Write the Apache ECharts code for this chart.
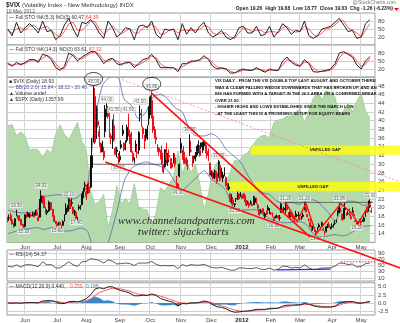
<!DOCTYPE html>
<html><head><meta charset="utf-8">
<script src="https://cdn.jsdelivr.net/npm/echarts@6/dist/echarts.min.js"></script>
<style>html,body{margin:0;padding:0;background:#fff}#c{width:400px;height:323px}</style>
</head><body><div id="c"></div>
<script>
// ---- trading calendar ----
const startDate = '2011-05-13';
const endDate = '2012-05-10';
const marketHolidays = ['2011-05-30','2011-07-04','2011-09-05','2011-11-24','2011-12-26','2012-01-02','2012-01-16','2012-02-20','2012-04-06'];
const monthKeys = ['2011-06','2011-07','2011-08','2011-09','2011-10','2011-11','2011-12','2012-01','2012-02','2012-03','2012-04','2012-05'];
const monthTexts = ['Jun','Jul','Aug','Sep','Oct','Nov','Dec','2012','Feb','Mar','Apr','May'];

// ---- $VIX daily candles [open, high, low, close] ----
const may11 = [[17.3,17.9,16.6,17.07],[17.6,18.4,17.0,17.65],[18.2,18.8,17.0,17.0],[17.2,17.4,16.1,16.23],[16.3,16.5,15.3,15.52],[15.8,17.6,15.7,17.43],[18.6,19.5,18.0,18.27],[18.0,18.3,17.4,17.82],[18.1,18.3,16.9,17.07],[17.3,17.4,16.0,16.09],[16.1,16.3,15.6,15.98],[16.0,16.2,15.3,15.45]];
const jun11 = [[15.7,18.5,15.6,18.3],[18.4,18.9,17.6,17.92],[18.6,19.1,17.9,17.95],[17.9,18.8,17.6,18.49],[18.3,18.6,17.8,18.07],[18.1,19.1,18.0,18.79],[18.5,18.8,17.8,17.9],[18.3,19.5,18.2,18.86],[19.0,19.6,18.1,18.26],[17.7,18.2,16.9,17.0],[17.8,22.0,17.7,21.32],[21.2,24.01,20.5,22.73],[21.3,22.8,20.9,21.85],[22.4,22.8,19.9,19.99],[19.9,20.2,18.6,18.86],[18.8,19.6,18.3,19.29],[20.5,21.6,19.0,19.29],[19.5,21.3,19.2,21.1],[21.0,21.3,19.5,19.61],[19.6,19.7,17.9,17.96],[18.0,18.2,16.8,16.8],[16.9,17.0,16.2,16.52]];
const jul11 = [[16.4,16.6,15.6,15.87],[16.4,16.7,15.9,16.34],[16.6,16.8,15.9,16.06],[15.7,16.1,15.3,15.95],[16.8,17.1,15.8,15.95],[16.9,18.5,16.8,18.39],[18.5,21.0,18.3,19.87],[19.3,20.6,19.0,19.91],[19.7,22.1,19.1,22.0],[21.4,21.7,19.7,20.0],[21.0,22.1,20.3,21.2],[20.1,20.2,18.5,18.6],[18.5,19.5,18.1,19.2],[18.9,19.0,17.4,17.5],[17.6,17.9,17.1,17.52],[19.8,20.7,19.4,20.2],[19.9,20.6,19.5,20.2],[20.7,23.1,20.5,22.98],[22.8,24.5,22.2,23.74],[25.0,26.0,23.7,25.25]];
const aug11 = [[22.5,25.2,21.8,23.7],[24.1,25.5,23.2,24.8],[24.7,26.0,23.3,23.4],[24.7,32.0,24.5,31.66],[29.2,36.0,27.4,32.0],[36.5,48.0,35.0,48.0],[45.6,47.5,34.6,35.06],[36.9,43.5,35.8,42.99],[39.9,43.0,38.5,39.0],[37.6,38.8,34.0,36.36],[34.8,35.0,32.6,32.85],[34.5,35.4,32.8,32.85],[33.0,34.0,30.9,31.58],[37.5,43.6,36.2,42.67],[42.5,44.0,40.9,43.05],[41.0,43.4,40.5,42.44],[41.6,42.0,36.1,36.27],[36.5,37.1,34.6,35.9],[34.5,40.3,33.5,39.76],[38.9,41.5,35.2,35.59],[33.6,34.0,32.1,32.28],[33.3,34.0,31.6,32.89],[31.4,32.6,30.1,31.62]];
const sep11 = [[31.0,33.0,30.5,31.82],[34.5,35.5,33.5,33.92],[37.8,39.0,36.5,37.0],[34.8,35.0,33.0,33.36],[33.8,35.5,33.2,35.0],[35.5,39.1,35.0,38.52],[40.9,41.6,36.4,36.91],[37.0,37.9,34.6,35.0],[35.2,37.5,32.7,32.8],[32.5,33.0,30.5,30.98],[31.0,31.6,30.2,30.98],[34.6,35.5,32.8,33.0],[32.8,34.2,31.4,32.7],[33.2,37.6,32.3,37.3],[41.6,43.5,39.8,41.35],[40.4,42.7,38.6,39.0],[38.3,38.7,35.9,37.0],[35.6,36.7,33.5,35.0],[36.0,38.2,35.3,38.0],[36.4,39.0,35.6,38.0],[40.5,43.3,39.0,42.96]];
const oct11 = [[42.6,45.8,41.3,45.45],[44.7,46.88,40.5,40.82],[41.0,41.6,37.2,37.8],[38.0,38.7,35.9,36.27],[35.7,38.0,34.6,36.2],[34.4,34.6,32.8,33.0],[33.7,34.0,32.0,32.86],[31.9,33.3,31.1,32.8],[32.6,34.3,29.9,30.2],[29.7,30.0,27.9,28.2],[29.4,33.5,29.2,33.3],[32.8,34.9,30.2,31.0],[30.5,32.6,29.6,32.0],[32.0,33.4,31.0,31.7],[30.6,31.5,29.0,31.3],[30.2,30.5,29.0,29.3],[30.8,32.6,30.2,32.2],[31.5,32.5,29.3,30.0],[26.7,27.3,24.5,25.0],[25.4,25.7,24.3,24.5],[27.3,30.2,27.0,29.96]];
const nov11 = [[33.5,36.0,32.5,34.8],[33.1,33.4,31.0,32.7],[32.8,34.2,30.1,30.5],[31.3,32.3,30.0,30.2],[31.0,31.7,29.6,29.8],[29.5,30.2,28.7,29.5],[32.3,36.9,31.9,36.2],[33.2,35.4,32.7,33.0],[31.8,32.0,29.4,30.0],[31.3,31.9,30.2,31.5],[31.2,32.8,30.7,32.0],[32.1,34.2,31.6,32.9],[33.0,35.5,32.5,34.5],[33.2,34.4,31.7,32.0],[34.9,35.0,33.4,34.0],[33.2,35.2,32.6,34.0],[34.2,35.3,33.3,35.0],[33.0,35.0,32.5,34.5],[32.0,34.5,31.3,33.0],[32.5,33.6,30.7,31.0],[30.2,30.4,27.4,27.8]];
const dec11 = [[27.5,28.6,27.1,27.9],[27.0,28.4,26.6,27.5],[26.8,28.7,26.5,28.0],[28.3,28.6,26.8,27.0],[27.9,28.2,25.5,26.0],[27.1,31.0,26.9,30.6],[29.7,30.0,26.0,26.4],[28.4,29.2,26.9,27.0],[26.8,28.3,25.9,27.5],[28.3,29.3,27.2,27.5],[26.9,27.2,24.9,25.0],[24.6,25.7,24.1,24.3],[24.8,25.6,23.9,24.3],[23.2,23.3,21.3,21.4],[22.3,23.1,21.0,22.0],[21.8,22.1,20.4,20.7],[20.9,21.0,20.1,20.7],[22.1,22.2,21.3,22.0],[22.0,23.7,21.8,23.5],[23.2,23.3,21.8,22.0],[22.6,23.6,22.4,23.4]];
const jan12 = [[22.6,23.0,21.9,22.97],[22.9,23.4,22.0,22.2],[22.8,23.3,21.3,21.5],[21.5,21.8,20.3,20.6],[21.2,21.6,20.7,21.1],[20.4,21.4,20.0,21.0],[21.3,21.7,20.7,21.0],[20.7,21.4,20.3,20.5],[21.6,22.7,20.6,20.9],[21.2,22.6,20.6,22.2],[21.5,22.3,20.8,20.9],[20.5,20.9,19.6,19.9],[19.6,19.7,18.2,18.3],[18.9,19.7,18.6,19.0],[19.4,19.9,18.7,18.8],[18.9,19.8,18.0,18.3],[17.9,18.9,17.4,18.6],[19.1,19.3,18.3,18.5],[20.0,20.6,19.3,19.4],[19.0,19.9,18.5,19.4]];
const feb12 = [[18.6,19.0,18.3,18.8],[18.5,18.9,17.8,17.9],[17.5,17.8,16.8,17.1],[17.7,18.2,17.5,17.9],[18.0,18.4,17.6,18.0],[17.8,18.3,17.3,17.6],[17.7,18.3,17.0,17.6],[18.9,21.1,18.8,20.8],[19.5,19.8,18.9,19.0],[19.8,20.2,19.2,19.5],[19.2,21.2,18.7,21.1],[20.3,21.0,19.4,19.5],[18.8,19.0,17.8,18.0],[17.8,19.1,17.6,18.9],[18.6,19.2,17.9,18.2],[18.2,18.5,17.5,17.6],[17.5,17.6,16.8,17.3],[18.4,19.3,17.8,18.2],[18.3,18.6,17.8,18.2],[17.9,19.1,17.4,18.4]];
const mar12 = [[17.5,18.0,17.1,17.3],[17.7,18.1,17.2,17.3],[18.3,18.8,17.6,18.0],[19.9,21.2,19.4,20.9],[20.1,20.5,18.9,19.0],[18.4,18.5,17.8,17.9],[17.3,17.6,16.8,17.3],[16.6,17.5,15.5,15.6],[15.5,16.0,14.5,14.8],[15.3,15.8,14.7,15.3],[14.8,15.4,14.4,14.5],[14.2,14.8,13.66,14.5],[15.3,15.5,14.7,15.0],[16.0,16.4,15.3,15.6],[15.2,15.5,14.7,15.1],[16.5,16.8,15.5,15.6],[15.0,15.4,14.6,14.8],[14.3,14.6,13.7,14.3],[14.6,15.8,14.3,15.6],[15.9,16.3,15.3,15.6],[16.1,16.7,15.4,15.5],[15.3,15.6,15.0,15.5]];
const apr12 = [[15.8,16.4,15.1,15.6],[15.8,16.3,15.4,15.7],[16.4,17.1,16.0,16.4],[17.1,17.3,16.5,16.7],[18.9,19.4,18.0,18.8],[18.8,21.06,18.7,20.4],[19.3,19.9,18.9,19.2],[18.5,18.7,17.0,17.2],[17.4,19.9,17.3,19.6],[19.9,21.1,19.5,19.6],[18.3,18.9,18.1,18.5],[18.6,19.2,18.4,18.6],[18.5,19.8,18.0,18.4],[17.9,18.6,17.4,17.4],[19.4,20.1,18.8,18.9],[18.4,19.4,18.0,18.1],[17.0,17.6,16.8,16.8],[16.8,17.1,16.2,16.2],[16.5,16.9,16.2,16.3],[17.0,17.4,16.9,17.2]];
const may12 = [[16.9,17.6,15.9,16.6],[17.0,17.3,16.8,16.9],[16.9,18.0,16.7,17.6],[18.1,19.5,17.9,19.2],[19.9,20.3,18.9,18.9],[19.8,21.6,19.0,19.1],[20.6,21.9,19.9,20.29],[19.26,19.88,18.77,19.03]];

// ---- overlays & indicators, one reading every third session ----
const INDICATOR_STEP = 3;
const spxClose = [1338,1340,1317,1325,1315,1286,1289,1287,1271,1288,1280,1321,1340,1320,1309,1327,1345,1305,1287,1200,1172,1179,1193,1123,1159,1212,1174,1185,1172,1216,1166,1162,1160,1124,1155,1207,1200,1215,1229,1285,1237,1261,1239,1257,1216,1161,1195,1244,1261,1236,1216,1241,1265,1263,1277,1281,1295,1308,1316,1318,1312,1345,1350,1352,1358,1358,1367,1374,1343,1371,1395,1409,1393,1412,1408,1399,1358,1370,1385,1367,1390,1405,1369,1354];
const stoFastK = [50,25,75,35,55,70,55,35,80,40,45,10,25,65,90,50,20,75,70,85,65,35,15,80,55,20,35,55,50,10,60,65,55,80,30,15,50,45,50,10,70,30,55,35,60,75,35,20,30,45,20,10,20,55,60,35,35,60,25,30,60,20,40,70,55,30,45,40,80,25,15,25,50,55,60,75,90,65,40,45,15,20,70,85];
const stoFastD = [45,35,50,55,45,60,65,50,55,60,45,30,20,40,70,75,45,45,60,80,78,50,30,45,62,45,30,42,52,35,35,55,60,68,55,30,32,45,48,35,45,45,45,45,48,62,58,35,28,35,35,20,15,35,55,50,40,45,45,35,40,40,35,55,60,45,38,42,60,50,30,22,35,50,55,65,80,80,55,45,35,20,45,70];
const stoSlowK = [40,30,45,35,45,55,55,45,75,70,55,25,15,30,80,70,50,65,75,85,85,65,40,55,60,40,35,45,45,25,40,55,60,75,55,25,25,25,25,10,40,40,50,50,55,70,55,30,20,25,20,5,5,15,20,15,15,25,15,8,20,15,15,50,65,45,35,30,55,40,10,8,12,15,20,40,80,85,75,65,35,20,50,67];
const stoSlowD = [42,35,38,40,40,50,55,50,60,72,62,40,22,22,55,75,60,58,68,80,85,75,52,48,58,50,40,40,45,35,35,45,55,68,62,40,28,25,25,18,28,38,45,50,52,62,60,42,28,22,22,12,6,10,15,17,15,20,18,12,15,16,15,35,55,52,40,33,45,45,25,12,10,12,16,30,62,80,80,70,50,30,38,60];
const rsi14 = [48,45,52,45,52,53,50,46,62,52,53,42,42,52,62,52,47,62,63,72,70,66,58,68,64,55,56,58,56,50,58,58,58,63,54,49,50,49,50,40,53,48,53,51,51,54,47,43,42,44,40,35,35,42,42,40,40,43,38,37,42,35,38,48,47,42,44,42,52,43,36,38,42,42,43,48,58,57,53,55,45,47,56,58];
const macdLine = [0,-0.1,0,-0.1,0.05,0.1,0.1,0,0.6,0.7,0.7,0.3,-0.1,-0.2,0.4,0.5,0.3,0.7,1.3,2.5,4.3,4.7,4.4,5.0,5.0,4.3,3.8,3.5,3.0,2.2,2.2,2.4,2.3,2.8,2.3,1.4,0.9,0.5,0.2,-0.9,-0.2,-0.3,0,0,0.2,0.6,0.3,-0.6,-1.2,-1.4,-1.8,-2.5,-2.9,-2.8,-2.6,-2.5,-2.3,-2.0,-2.0,-2.0,-1.7,-1.7,-1.6,-1.0,-0.7,-0.7,-0.6,-0.6,-0.2,-0.4,-0.9,-1.2,-1.3,-1.3,-1.3,-1.0,-0.2,0.3,0.4,0.4,0,-0.1,0.2,0.44];
const macdSignal = [0.05,0,0,-0.05,0,0.05,0.08,0.05,0.2,0.4,0.55,0.5,0.3,0.1,0.15,0.3,0.35,0.45,0.7,1.3,2.3,3.2,3.7,4.2,4.5,4.5,4.3,4.0,3.6,3.1,2.7,2.5,2.4,2.5,2.5,2.1,1.7,1.2,0.8,0.2,0,-0.1,-0.1,-0.05,0.05,0.25,0.3,0,-0.5,-0.9,-1.3,-1.8,-2.2,-2.5,-2.6,-2.6,-2.5,-2.3,-2.2,-2.1,-1.9,-1.8,-1.7,-1.4,-1.1,-0.9,-0.75,-0.65,-0.45,-0.4,-0.6,-0.9,-1.1,-1.2,-1.25,-1.15,-0.7,-0.2,0.1,0.3,0.2,0.05,0.1,0.25];
const macdHist = [-0.05,-0.1,0,-0.05,0.05,0.05,0.02,-0.05,0.4,0.3,0.15,-0.2,-0.4,-0.3,0.25,0.2,-0.05,0.25,0.6,1.2,2.0,1.5,0.7,0.8,0.5,-0.2,-0.5,-0.5,-0.6,-0.9,-0.5,-0.1,-0.1,0.3,-0.2,-0.7,-0.8,-0.7,-0.6,-1.1,-0.2,-0.2,0.1,0.05,0.15,0.35,0,-0.6,-0.7,-0.5,-0.5,-0.7,-0.7,-0.3,0,0.1,0.2,0.3,0.2,0.1,0.2,0.1,0.1,0.4,0.4,0.2,0.15,0.05,0.25,0,-0.3,-0.3,-0.2,-0.1,-0.05,0.15,0.5,0.5,0.3,0.1,-0.2,-0.15,0.1,0.19];

// ---- Bollinger bands, one reading every fifth session ----
const BB_STEP = 5;
const bbUpper = [19.5,19.0,18.8,18.9,19.2,22.5,22.8,23.0,22.5,22.0,23.0,25.5,40.0,48.0,50.0,50.5,45.0,43.5,40.5,42.0,45.5,46.0,45.0,43.0,42.0,38.0,36.5,36.5,37.0,36.0,33.5,32.0,30.5,27.5,25.0,23.5,23.0,21.5,21.0,21.2,20.8,21.5,21.8,20.8,19.0,17.0,20.5,21.5,21.3,20.5,21.2];
const bbLower = [14.0,14.5,15.0,15.2,15.4,15.0,15.4,14.8,14.6,14.8,15.3,14.5,9.0,8.0,13.0,19.0,26.0,29.0,30.0,30.5,30.0,29.5,28.5,26.0,24.0,25.5,27.0,28.5,26.5,25.5,24.0,20.0,19.5,19.5,19.5,18.5,17.5,16.8,16.5,16.6,16.8,16.2,14.0,13.2,13.5,13.8,13.5,14.0,15.0,15.7,15.8];

// ---- swing-point price tags [session, price, side]; each price is that session's high or low ----
const swingLabels = [
  [6,19.5,'top'],[11,15.3,'bottom'],[23,24.01,'top'],[34,15.6,'bottom'],[42,22.1,'top'],[47,17.4,'bottom'],
  [59,48.00,'top'],[68,44.0,'top'],[73,41.5,'top'],[76,30.1,'bottom'],[83,41.6,'top'],[91,43.5,'top'],[99,46.88,'top'],
  [117,24.3,'bottom'],[125,36.9,'top'],[145,31.0,'top'],[156,20.1,'bottom'],
  [183,16.8,'bottom'],[191,21.2,'top'],[204,21.2,'top'],[212,13.66,'bottom'],[228,21.06,'top'],[240,16.2,'bottom'],[249,21.9,'top']
];

// ---- chart notes, anchored in [session, price] ----
const wedgeTop = [[99,46.3],[208,13.2]];
const wedgeBottom = [[67,30.5],[269.7,6.1]];
const resistance = [[75.8,49.8],[269.7,25.9]];
const supportLevel = [[58.6,30.0],[109.5,30.0]];
const necklineLevel = [[190.6,21.2],[250.5,21.2]];
const ihsPath = [[191,21.2],[198.5,16.8],[204.5,21.0],[212,14.0],[228.5,20.9],[235.5,18.9],[240.5,16.4],[249.5,21.5]];
const gapBands = [[167,32.2,34.3],[150,23.8,25.9]];
const topCircles = [[59,48.0],[99,46.88]];
const rsiArrow = [[185,36],[222,38]];
const rsiDotted = [[229,62],[253,62]];

const noteLines = [
  'VIX DAILY - FROM THE VIX DOUBLE TOP LAST AUGUST AND OCTOBER THERE',
  'WAS A CLEAR FALLING WEDGE DOWNWARDS THAT HAS BROKEN UP, AND AN',
  'IHS HAS FORMED WITH A TARGET IN THE 26.5 AREA ON A CONFIRMED BREAK',
  'OVER 21.50.',
  '- HIGHER HIGHS AND LOWS ESTABLISHED SINCE THE MARCH LOW',
  '- AT THE LEAST THIS IS A PROMISING SETUP FOR EQUITY BEARS'
];
const priceTicks = [14,16,18,20,22,24,26,28,30,32,34,36,38,40,42,44,46,48];

// ---------------------------------------------------------------
function buildTradingDays() {
  const out = [];
  const d = new Date(startDate + 'T00:00:00Z');
  const end = new Date(endDate + 'T00:00:00Z');
  while (d <= end) {
    const iso = d.toISOString().slice(0, 10);
    const wd = d.getUTCDay();
    if (wd !== 0 && wd !== 6 && marketHolidays.indexOf(iso) < 0) out.push(iso);
    d.setUTCDate(d.getUTCDate() + 1);
  }
  return out;
}
const days = buildTradingDays();
const categories = days.concat(['pad-1', 'pad-2']);
const monthStart = {};
days.forEach((iso, i) => {
  const k = iso.slice(0, 7);
  const m = monthKeys.indexOf(k);
  if (m >= 0 && !(k in monthStart)) monthStart[k] = i;
});
const monthIdx = {};
monthKeys.forEach((k, m) => { monthIdx[monthStart[k]] = monthTexts[m]; });
const isMonthStart = (i) => i in monthIdx;

const vixRows = [].concat(may11, jun11, jul11, aug11, sep11, oct11, nov11, dec11, jan12, feb12, mar12, apr12, may12);
const candleData = vixRows.map((r, i) => {
  const prev = i > 0 ? vixRows[i - 1][3] : r[0];
  const col = r[3] < prev ? '#e8101a' : '#111';
  const fill = r[3] < r[0] ? col : '#fff';
  return { value: [r[0], r[3], r[2], r[1]], itemStyle: { color: fill, color0: fill, borderColor: col, borderColor0: col } };
});
const stepped = (arr, step) => arr.map((v, i) => [i * step, v]);

const FONT = 'Liberation Sans, Arial, sans-serif';
const GRID_L = 7, GRID_W = 368;
const grids = [
  { left: GRID_L, width: GRID_W, top: 13, height: 32 },
  { left: GRID_L, width: GRID_W, top: 45, height: 32 },
  { left: GRID_L, width: GRID_W, top: 77.3, height: 165.1 },
  { left: GRID_L, width: GRID_W, top: 250, height: 31 },
  { left: GRID_L, width: GRID_W, top: 282.75, height: 34 }
].map(g => Object.assign({ show: true, borderColor: '#9a9a9a', borderWidth: 1, backgroundColor: '#fff' }, g));

function xAx(gi, labels) {
  return {
    type: 'category', gridIndex: gi, data: categories, boundaryGap: true,
    axisLine: { show: false }, axisTick: { show: false },
    axisLabel: { show: labels, interval: (i) => isMonthStart(i),
      formatter: (v, i) => { const t = monthIdx[i] || ''; return /^\d+$/.test(t) ? '{yr|' + t + '}' : t; },
      rich: { yr: { fontWeight: 'bold', fontSize: 6, color: '#222', fontFamily: FONT } },
      fontSize: 6, color: '#444', fontFamily: FONT, margin: 2 },
    splitLine: { show: true, interval: (i) => isMonthStart(i), lineStyle: { color: '#d4d4d4', width: 1 } }
  };
}
function yAx(gi, min, max, ticks, fmt) {
  return {
    type: 'value', gridIndex: gi, position: 'right', min, max, scale: true,
    axisLine: { show: false },
    axisTick: { show: false, customValues: ticks },
    axisLabel: { customValues: ticks, fontSize: 6, color: '#444', fontFamily: FONT, margin: 3, formatter: fmt || (v => String(v)) },
    splitLine: { show: true, lineStyle: { color: '#cfcfcf', width: 1 } }
  };
}

const option = {
  animation: false,
  backgroundColor: '#fff',
  grid: grids,
  xAxis: [xAx(0, false), xAx(1, false), xAx(2, true), xAx(3, false), xAx(4, true)],
  yAxis: [
    yAx(0, -10, 110, [20, 50, 80]),
    yAx(1, -10, 110, [20, 50, 80]),
    yAx(2, 12, 50, priceTicks),
    { type: 'value', gridIndex: 2, show: false, min: 1092, max: 1440, splitLine: { show: false } },
    yAx(3, 0, 100, [10, 30, 50, 70, 90]),
    yAx(4, -3.75, 6.25, [-2.5, 0, 2.5, 5], v => v.toFixed(1))
  ],
  series: [
    { type: 'line', name: '%K(5,3)', xAxisIndex: 0, yAxisIndex: 0, data: stepped(stoFastK, INDICATOR_STEP), showSymbol: false, lineStyle: { color: '#222', width: 1 }, z: 4 },
    { type: 'line', name: '%D(3)', xAxisIndex: 0, yAxisIndex: 0, data: stepped(stoFastD, INDICATOR_STEP), showSymbol: false, lineStyle: { color: '#ff5a5a', width: 1 }, z: 3 },
    { type: 'line', name: '%K(14,3)', xAxisIndex: 1, yAxisIndex: 1, data: stepped(stoSlowK, INDICATOR_STEP), showSymbol: false, lineStyle: { color: '#222', width: 1 }, z: 4 },
    { type: 'line', name: '%D(3) slow', xAxisIndex: 1, yAxisIndex: 1, data: stepped(stoSlowD, INDICATOR_STEP), showSymbol: false, lineStyle: { color: '#ff5a5a', width: 1 }, z: 3 },
    { type: 'line', name: '$SPX', xAxisIndex: 2, yAxisIndex: 3, data: stepped(spxClose, INDICATOR_STEP), showSymbol: false,
      lineStyle: { color: '#9ccb93', width: 0.8 }, areaStyle: { color: '#b4d9ab', origin: 'start', opacity: 1 }, z: 1 },
    { type: 'line', name: 'BB upper', xAxisIndex: 2, yAxisIndex: 2, data: stepped(bbUpper, BB_STEP), showSymbol: false, smooth: 0.3, lineStyle: { color: '#5a64b4', width: 0.8 }, z: 3 },
    { type: 'line', name: 'BB lower', xAxisIndex: 2, yAxisIndex: 2, data: stepped(bbLower, BB_STEP), showSymbol: false, smooth: 0.3, lineStyle: { color: '#5a64b4', width: 0.8 }, z: 3 },
    { type: 'candlestick', name: '$VIX', xAxisIndex: 2, yAxisIndex: 2, data: candleData, barWidth: 1.4, z: 5 },
    { type: 'scatter', name: 'swing labels', xAxisIndex: 2, yAxisIndex: 2, symbolSize: 0, z: 8,
      data: swingLabels.map(s => ({ value: [s[0], s[1]], label: { position: s[2] } })),
      label: { show: true, formatter: p => p.value[1].toFixed(2), fontSize: 4.5, color: '#444', fontFamily: FONT,
        backgroundColor: 'rgba(255,255,255,0.8)', borderColor: '#b5b5b5', borderWidth: 0.5, padding: [0, 1], distance: 1.5 } },
    { type: 'line', name: 'RSI(14)', xAxisIndex: 3, yAxisIndex: 4, data: stepped(rsi14, INDICATOR_STEP), showSymbol: false, lineStyle: { color: '#333', width: 0.8 }, z: 3 },
    { type: 'line', name: 'MACD hist', xAxisIndex: 4, yAxisIndex: 5, data: stepped(macdHist, INDICATOR_STEP), showSymbol: false,
      lineStyle: { width: 0 }, areaStyle: { color: '#3d86c6', origin: 0, opacity: 1 }, z: 2 },
    { type: 'line', name: 'MACD', xAxisIndex: 4, yAxisIndex: 5, data: stepped(macdLine, INDICATOR_STEP), showSymbol: false, lineStyle: { color: '#222', width: 1 }, z: 4 },
    { type: 'line', name: 'Signal', xAxisIndex: 4, yAxisIndex: 5, data: stepped(macdSignal, INDICATOR_STEP), showSymbol: false, lineStyle: { color: '#ff5a5a', width: 1 }, z: 3 }
  ]
};

const chart = echarts.init(document.getElementById('c'), null, { renderer: 'canvas' });
chart.setOption(option);

// ---- annotations positioned through the main panel's scales ----
const P = (pt) => chart.convertToPixel({ xAxisIndex: 2, yAxisIndex: 2 }, pt);
const PR = (pt) => chart.convertToPixel({ xAxisIndex: 3, yAxisIndex: 4 }, pt);
const g = [];
function txt(x, y, text, style) {
  g.push({ type: 'text', x, y, z: 20, style: Object.assign({ text, fontFamily: FONT, fontSize: 6, fill: '#222', textVerticalAlign: 'top' }, style || {}) });
}
// unfilled gaps
gapBands.forEach(b => {
  const a = P([b[0], b[2]]), c = P([b[0], b[1]]);
  g.push({ type: 'rect', z: 1, shape: { x: a[0], y: a[1], width: 400 - a[0], height: c[1] - a[1] }, style: { fill: 'rgba(255,255,0,0.78)' } });
  txt(a[0] + (400 - a[0]) / 2, (a[1] + c[1]) / 2, 'UNFILLED GAP', { textAlign: 'center', textVerticalAlign: 'middle', fontSize: 4.2, fontWeight: 'bold', fontFamily: 'Liberation Sans Narrow, Liberation Sans' });
});
const poly = (pts, conv, style, z) => g.push({ type: 'polyline', z: z || 12, shape: { points: pts.map(conv) }, style: Object.assign({ fill: null }, style) });
poly(resistance, P, { stroke: '#ff8080', lineWidth: 0.8, lineDash: [2, 2] });
poly(wedgeTop, P, { stroke: '#ff1010', lineWidth: 1.6 });
poly(wedgeBottom, P, { stroke: '#ff1010', lineWidth: 1.6 });
poly(ihsPath, P, { stroke: '#ff1010', lineWidth: 1.4 });
poly(supportLevel, P, { stroke: '#111', lineWidth: 1, lineDash: [1, 1] });
poly(necklineLevel, P, { stroke: '#111', lineWidth: 1, lineDash: [1, 1] });
topCircles.forEach(t => {
  const c = P(t);
  g.push({ type: 'ellipse', z: 13, shape: { cx: c[0], cy: c[1] - 7, rx: 9, ry: 6.5 }, style: { fill: null, stroke: '#111', lineWidth: 0.8 } });
});
poly(rsiArrow, PR, { stroke: '#1c33e6', lineWidth: 1.2 });
poly(rsiDotted, PR, { stroke: '#ff2020', lineWidth: 1, lineDash: [1.5, 1.5] });

// header
txt(6, 2, '$VIX', { fontWeight: 'bold', fontSize: 6.5 });
txt(22, 2, '(Volatility Index - New Methodology) INDX', { fontSize: 6, fill: '#333' });
txt(6, 9.5, '10 May 2012', { fontSize: 5, fill: '#555' });
txt(396, 0.5, '@StockCharts.com', { textAlign: 'right', fontSize: 5, fill: '#777' });
txt(393, 6.5, 'Open 19.26  High 19.88  Low 18.77  Close 19.03  Chg -1.26 (-6.23%)', { textAlign: 'right', fontSize: 5, fill: '#222', fontWeight: 'bold' });
g.push({ type: 'polygon', z: 20, shape: { points: [[394, 8], [399, 8], [396.5, 11]] }, style: { fill: '#e8101a' } });

// panel legends
txt(9, 15, '— Full STO %K(5,3) %D(3) 60.47,', { fontSize: 5, fill: '#333' });
txt(86, 15, '64.39', { fontSize: 5, fill: '#ff4040' });
txt(9, 47, '— Full STO %K(14,3) %D(3) 63.61,', { fontSize: 5, fill: '#333' });
txt(89, 47, '67.12', { fontSize: 5, fill: '#ff4040' });
txt(9, 79.5, '■ $VIX (Daily) 18.93', { fontSize: 5, fill: '#333' });
txt(9, 85.5, '— BB(20,2.0) 15.84 - 18.12 - 20.40', { fontSize: 5, fill: '#4a55b0' });
txt(9, 91.5, '▲ Volume undef', { fontSize: 5, fill: '#333' });
txt(9, 97.5, '▲ $SPX (Daily) 1357.99', { fontSize: 5, fill: '#333' });
txt(9, 252, '— RSI(14) 54.37', { fontSize: 5, fill: '#333' });
txt(9, 284, '— MACD(12,26,9) 0.440,', { fontSize: 5, fill: '#333' });
txt(70, 284, '0.250,', { fontSize: 5, fill: '#ff4040' });
txt(86, 284, '0.189', { fontSize: 5, fill: '#3d86c6' });

// commentary
noteLines.forEach((l, i) => txt(215, 79 + i * 6.5, l, { fontSize: 4.2, fontWeight: 'bold', fill: '#111', fontFamily: 'Liberation Sans Narrow, Liberation Sans' }));

// watermark
txt(118, 216, 'www.channelsandpatterns.com', { fontSize: 11, fontStyle: 'italic', fontFamily: 'Liberation Serif, serif', fill: '#2a2a2a' });
txt(138, 227, 'twitter: shjackcharts', { fontSize: 11, fontStyle: 'italic', fontFamily: 'Liberation Serif, serif', fill: '#2a2a2a' });

chart.setOption({ graphic: { elements: g } });
</script></body></html>
